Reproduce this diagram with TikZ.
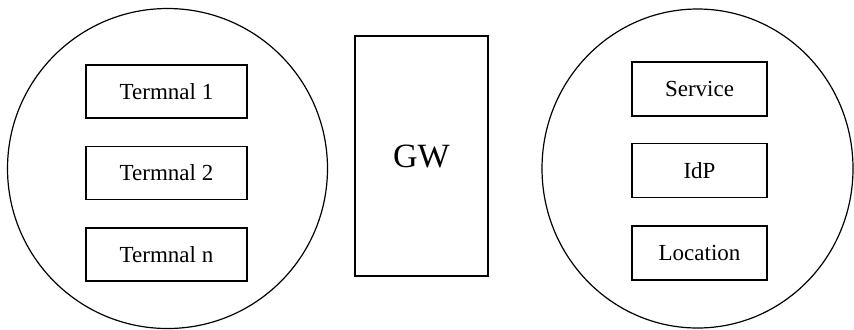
\documentclass[tikz,border=0pt]{standalone}
\usepackage{fontspec}
\setmainfont{Liberation Serif}
\usetikzlibrary{positioning,shapes.geometric}

\begin{document}
\begin{tikzpicture}[x=0.5pt,y=-0.5pt,every node/.style={font=\fontsize{11.5}{13}\selectfont,align=center},
    group/.style={draw,line width=0.6pt,inner sep=0pt},
    termbox/.style={draw,line width=0.8pt,minimum width=80.5pt,minimum height=26.5pt},
    srvbox/.style={draw,line width=0.8pt,minimum width=67.5pt,minimum height=27pt}]
  \useasboundingbox (0,0) rectangle (854,329);
  \node[group,circle,minimum size=160pt] (devices) at (167.5,168.5) {};
  \node[group,ellipse,minimum width=155.5pt,minimum height=159.5pt] (cloud) at (697.5,168.5) {};
  \node[termbox] (t1) at (166.5,91.5) {Termnal 1};
  \node[termbox,below=13.5pt of t1] (t2) {Termnal 2};
  \node[termbox,below=13.5pt of t2] (tn) {Termnal n};
  \node[draw,line width=0.8pt,minimum width=66.5pt,minimum height=120pt,
    font=\fontsize{17}{20}\selectfont] (gw) at (421.5,156) {GW};
  \node[srvbox] (service) at (699.5,89) {Service};
  \node[srvbox,below=13pt of service] (idp) {IdP};
  \node[srvbox,below=13.5pt of idp] (location) {Location};
\end{tikzpicture}
\end{document}
